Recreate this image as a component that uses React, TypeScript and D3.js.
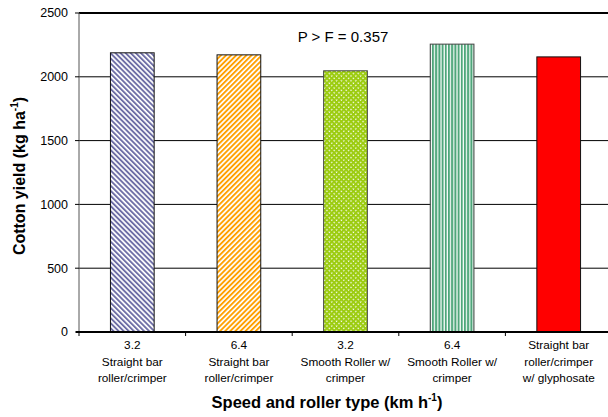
import React from "react";
import * as d3 from "d3";

const categories = ["c1", "c2", "c3", "c4", "c5"];
const labelLines = [
  ["3.2", "Straight bar", "roller/crimper"],
  ["6.4", "Straight bar", "roller/crimper"],
  ["3.2", "Smooth Roller w/", "crimper"],
  ["6.4", "Smooth Roller w/", "crimper"],
  ["Straight bar", "roller/crimper", "w/ glyphosate"],
];
const yields = [2188, 2172, 2047, 2256, 2156];
const yTicks = [0, 500, 1000, 1500, 2000, 2500];
const fills = ["url(#p1)", "url(#p2)", "url(#p3)", "url(#p4)", "#ff0000"];
const strokes = ["#111", "#111", "#444", "#444", "#111"];

const W = 608, H = 417;
const M = { left: 79, top: 13, right: 612, bottom: 332 };

export default function App() {
  const x = d3.scaleBand<string>().domain(categories).range([M.left, M.right]).paddingInner(0).paddingOuter(0);
  const y = d3.scaleLinear().domain([0, 2500]).range([M.bottom, M.top]);
  const bw = x.bandwidth() * 0.41;
  const font = "Liberation Sans, Arial, sans-serif";
  return (
    <svg width={W} height={H} style={{ position: "fixed", left: 0, top: 0, background: "#fff" }} fontFamily={font}>
      <defs>
        <pattern id="p1" patternUnits="userSpaceOnUse" width={3.6} height={3.6} patternTransform="rotate(-45)">
          <rect width={3.6} height={3.6} fill="#fff" />
          <rect x={0} width={1.9} height={3.6} fill="#6e6ea6" />
        </pattern>
        <pattern id="p2" patternUnits="userSpaceOnUse" width={3.6} height={3.6} patternTransform="rotate(45)">
          <rect width={3.6} height={3.6} fill="#fff" />
          <rect x={0} width={1.9} height={3.6} fill="#ffa000" />
        </pattern>
        <pattern id="p3" patternUnits="userSpaceOnUse" width={3.4} height={3.4} patternTransform="rotate(45)">
          <rect width={3.4} height={3.4} fill="#fff" />
          <rect x={0} y={0} width={2.1} height={3.4} fill="#9ccc10" />
          <rect x={0} y={0} width={3.4} height={2.1} fill="#9ccc10" />
        </pattern>
        <pattern id="p4" patternUnits="userSpaceOnUse" width={3.2} height={10}>
          <rect width={3.2} height={10} fill="#fff" />
          <rect x={0} width={2} height={10} fill="#4ea67a" />
        </pattern>
      </defs>
      {yTicks.filter((t) => t > 0).map((t) => (
        <line key={t} x1={M.left} x2={M.right} y1={y(t)} y2={y(t)} stroke="#000" strokeWidth={t === 2500 ? 2 : 1} />
      ))}
      {categories.map((c, i) => (
        <rect
          key={c}
          x={x(c)! + (x.bandwidth() - bw) / 2}
          y={y(yields[i])}
          width={bw}
          height={y(0) - y(yields[i])}
          fill={fills[i]}
          stroke={strokes[i]}
          strokeWidth={1}
        />
      ))}
      <line x1={M.left} x2={M.left} y1={M.top} y2={M.bottom} stroke="#555" strokeWidth={1} />
      <line x1={M.left - 3} x2={M.right} y1={M.bottom} y2={M.bottom} stroke="#000" strokeWidth={2} />
      {yTicks.map((t) => (
        <g key={t}>
          <line x1={M.left - 4} x2={M.left} y1={y(t)} y2={y(t)} stroke="#000" />
          <text x={68} y={y(t)} dy="0.35em" textAnchor="end" fontSize={12.5}>{t}</text>
        </g>
      ))}
      {categories.map((c) => (
        <line key={c} x1={x(c)!} x2={x(c)!} y1={M.bottom} y2={M.bottom + 4} stroke="#000" />
      ))}
      {categories.map((c, i) => (
        <text key={c} textAnchor="middle" fontSize={11.8} fill="#000">
          {labelLines[i].map((l, j) => (
            <tspan key={j} x={x(c)! + x.bandwidth() / 2} y={349 + j * 16.5}>{l}</tspan>
          ))}
        </text>
      ))}
      <text x={343} y={42} textAnchor="middle" fontSize={15}>P &gt; F = 0.357</text>
      <text x={327} y={408} textAnchor="middle" fontSize={16.5} fontWeight="bold">
        Speed and roller type (km h<tspan fontSize={10} dy={-7}>-1</tspan><tspan dy={7}>)</tspan>
      </text>
      <text transform={`translate(25,${176}) rotate(-90)`} textAnchor="middle" fontSize={16} fontWeight="bold">
        Cotton yield (kg ha<tspan fontSize={10} dy={-7}>-1</tspan><tspan dy={7}>)</tspan>
      </text>
    </svg>
  );
}
